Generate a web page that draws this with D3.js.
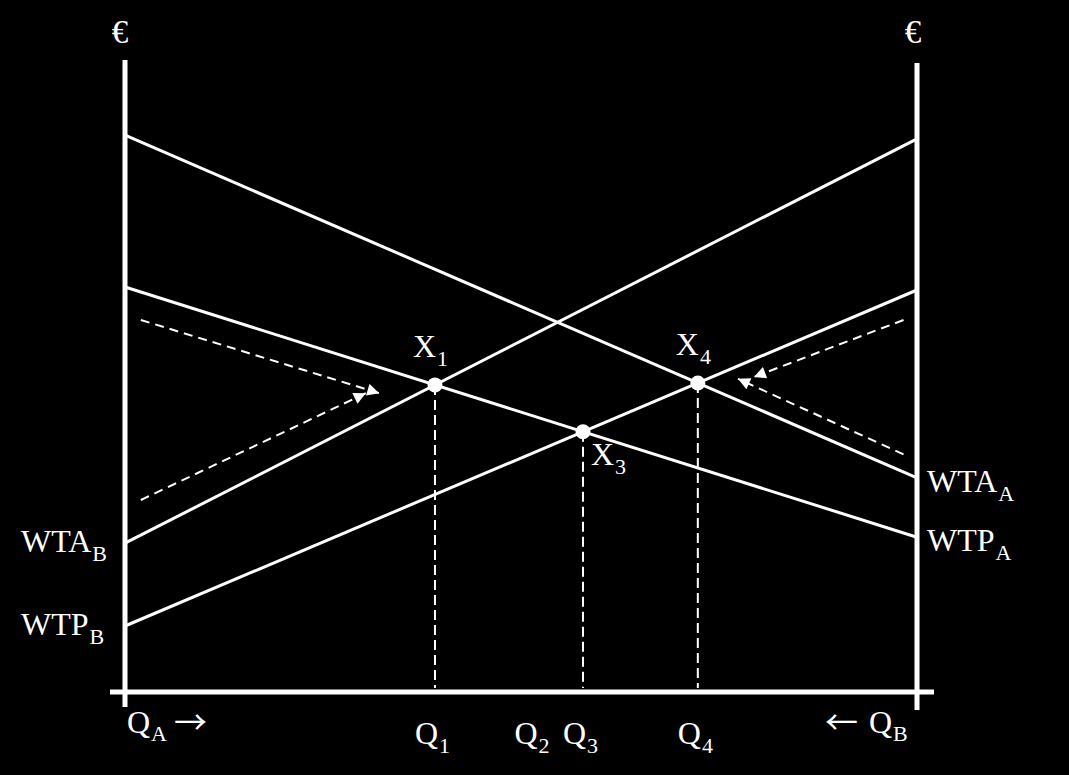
<!DOCTYPE html>
<html><head><meta charset="utf-8">
<script src="https://cdn.jsdelivr.net/npm/d3@7"></script>
<style>html,body{margin:0;padding:0;background:#000;}svg{display:block;}</style>
</head><body>
<script>
// ---- data ----
const curveNames = ["WTA", "WTP", "WTA", "WTP"];
const curveSubs  = ["A", "A", "B", "B"];
const curveLeft  = [92.8, 67.5, 24.8, 11.0];   // value at Q_A = 0
const curveRight = [35.7, 25.8, 92.2, 67.0];   // value at Q_A = 100
const pointNames = ["X", "X", "X"];
const pointSubs  = ["1", "3", "4"];
const pointPairs = [[1, 2], [1, 3], [0, 3]];   // curve index pairs that intersect
const qLabels    = ["1", "2", "3", "4"];
const qExtra     = { "2": 51.7 };              // Q2 has no point, position on Q axis
const arrowsFrom = [[2, 62], [2, 32], [98.3, 62], [98.3, 39.6]];
const arrowsTo   = [[32.1, 49.8], [30.4, 49.8], [79.4, 52.5], [77.4, 52.2]];

const W = 1069, H = 775;
const x = d3.scaleLinear().domain([0, 100]).range([125, 917]);
const y = d3.scaleLinear().domain([0, 100]).range([692, 92]);

const svg = d3.select("body").append("svg").attr("width", W).attr("height", H);
svg.append("rect").attr("width", W).attr("height", H).attr("fill", "#000");

const FONT = "'Liberation Serif', 'Times New Roman', serif";
const MAIN = 32, SUB = 22;

svg.append("defs").append("marker")
  .attr("id", "ah").attr("viewBox", "0 0 10 10").attr("refX", 10).attr("refY", 5)
  .attr("markerWidth", 14).attr("markerHeight", 12).attr("markerUnits", "userSpaceOnUse")
  .attr("orient", "auto")
  .append("path").attr("d", "M0,0 L10,5 L0,10 Z").attr("fill", "#fff");

// axes
svg.append("line").attr("x1", x(0)).attr("x2", x(0)).attr("y1", 60).attr("y2", 707)
  .attr("stroke", "#fff").attr("stroke-width", 5);
svg.append("line").attr("x1", x(100)).attr("x2", x(100)).attr("y1", 63).attr("y2", 710)
  .attr("stroke", "#fff").attr("stroke-width", 5);
svg.append("line").attr("x1", 110).attr("x2", 934).attr("y1", y(0)).attr("y2", y(0))
  .attr("stroke", "#fff").attr("stroke-width", 5);

function label(xp, yp, main, sub, opts = {}) {
  const t = svg.append("text").attr("x", xp).attr("y", yp)
    .attr("fill", "#fff").attr("font-family", FONT).attr("font-size", opts.size || MAIN)
    .attr("text-anchor", opts.anchor || "start");
  t.append("tspan").text(main);
  if (sub) t.append("tspan").attr("dx", 1).attr("dy", opts.subDy || 9).attr("font-size", opts.subSize || SUB).text(sub);
  return t;
}

label(x(0) - 5, 43, "€", null, { anchor: "middle", size: 33 });
label(x(100) - 4, 43, "€", null, { anchor: "middle", size: 33 });

// curves
const curves = curveNames.map((n, i) => ({ name: n, sub: curveSubs[i], a: curveLeft[i], b: curveRight[i] }));
svg.selectAll("line.curve").data(curves).enter().append("line").attr("class", "curve")
  .attr("x1", x(0)).attr("y1", d => y(d.a)).attr("x2", x(100)).attr("y2", d => y(d.b))
  .attr("stroke", "#fff").attr("stroke-width", 3);

// curve labels
curves.forEach(c => {
  if (c.sub === "A") label(x(100) + 10, y(c.b) + 14, c.name, c.sub);
  else label(21, y(c.a) + 9, c.name, c.sub);
});

// intersection points
function inter(i, j) {
  const c1 = curves[i], c2 = curves[j];
  const t = (c2.a - c1.a) / ((c1.b - c1.a) - (c2.b - c2.a));
  return { q: 100 * t, v: c1.a + t * (c1.b - c1.a) };
}
const points = pointPairs.map((p, k) => Object.assign(inter(p[0], p[1]), { name: pointNames[k], sub: pointSubs[k] }));

// dashed verticals
svg.selectAll("line.drop").data(points).enter().append("line").attr("class", "drop")
  .attr("x1", d => x(d.q)).attr("x2", d => x(d.q)).attr("y1", d => y(d.v)).attr("y2", y(0) - 4)
  .attr("stroke", "#fff").attr("stroke-width", 2).attr("stroke-dasharray", "10,5");

svg.selectAll("circle.pt").data(points).enter().append("circle").attr("class", "pt")
  .attr("cx", d => x(d.q)).attr("cy", d => y(d.v)).attr("r", 7.5).attr("fill", "#fff");

points.forEach(p => {
  if (p.sub === "3") label(x(p.q) + 8, y(p.v) + 33, p.name, p.sub);
  else label(x(p.q) - 22, y(p.v) - 28, p.name, p.sub);
});

// dashed arrows
arrowsFrom.forEach((f, i) => {
  const t = arrowsTo[i];
  svg.append("line").attr("x1", x(f[0])).attr("y1", y(f[1])).attr("x2", x(t[0])).attr("y2", y(t[1]))
    .attr("stroke", "#fff").attr("stroke-width", 2).attr("stroke-dasharray", "9,6")
    .attr("marker-end", "url(#ah)");
});

// Q labels
const qPos = { "1": points[0].q, "3": points[1].q, "4": points[2].q, "2": qExtra["2"] };
qLabels.forEach(q => label(x(qPos[q]) - 20, 744, "Q", q, { subDy: 9 }));

label(x(0) + 2, 733, "Q", "A", { subDy: 8 });
const ARROWFONT = "'Noto Sans CJK JP', 'DejaVu Sans', sans-serif";
svg.append("text").attr("x", 174).attr("y", 734).attr("fill", "#fff").attr("font-family", ARROWFONT)
  .attr("font-size", 32).attr("textLength", 33).attr("lengthAdjust", "spacingAndGlyphs").text("→");
svg.append("text").attr("x", 825).attr("y", 734).attr("fill", "#fff").attr("font-family", ARROWFONT)
  .attr("font-size", 32).attr("textLength", 33).attr("lengthAdjust", "spacingAndGlyphs").text("←");
label(869, 733, "Q", "B", { subDy: 8 });
</script>
</body></html>
